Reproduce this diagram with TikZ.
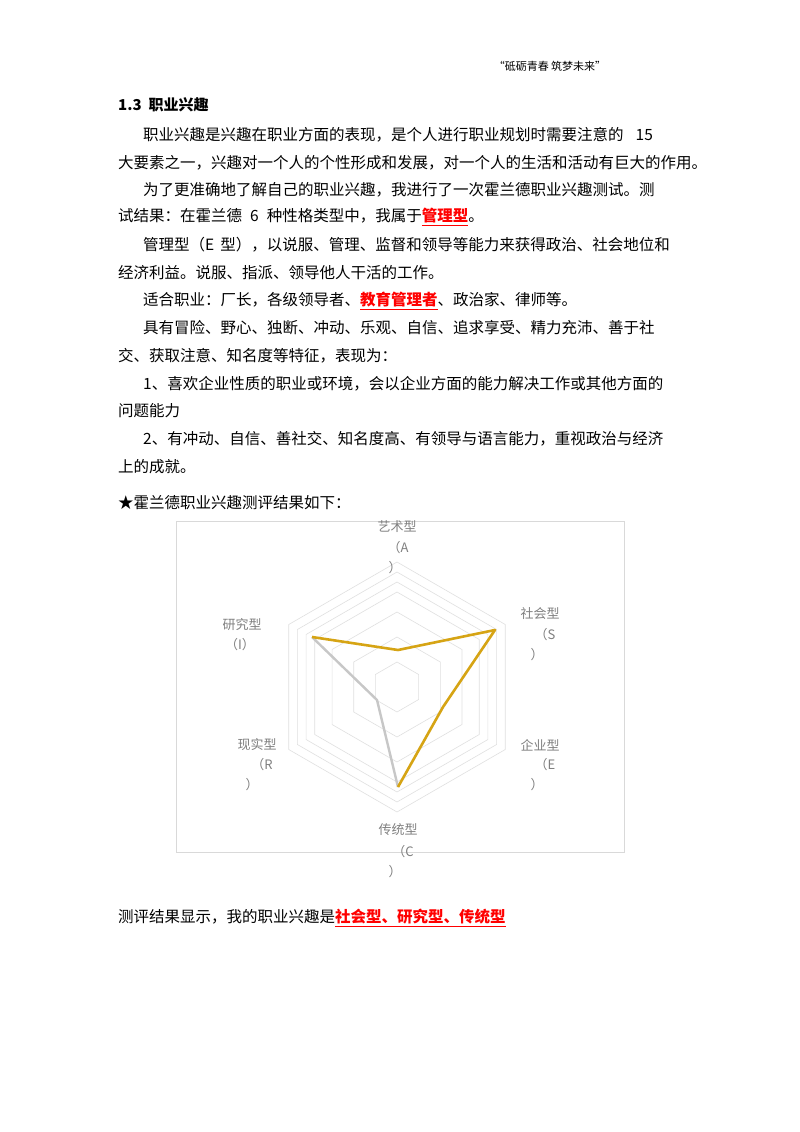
\documentclass[tikz,border=0pt]{standalone}
\usepackage{fontspec}
\setmainfont{Noto Sans CJK SC}
\definecolor{goldc}{RGB}{214,164,20}
\begin{document}
\begin{tikzpicture}[x=1pt,y=-1pt,
  tx/.style={anchor=west,inner sep=0pt,font=\fontsize{15.5}{18}\selectfont},
  lb/.style={inner sep=0pt,text=black!50,font=\fontsize{13}{15}\selectfont},
  ring/.style={draw=black!12,line width=0.6pt},
  gold/.style={draw=goldc,line width=2.6pt,line join=round},
  grayline/.style={draw=black!22,line width=2.4pt,line join=round}]
\useasboundingbox[fill=white] (0,0) rectangle (800,1132);
\def\red#1{\textcolor{red}{\underline{\textbf{#1}}}}
\node[inner sep=0pt,font=\fontsize{11}{13}\selectfont] (hdr) at (550,66) {“砥砺青春\ 筑梦未来”};
\node[tx,font=\fontsize{15}{18}\bfseries] (h) at (118,105) {1.3\ \ 职业兴趣};
\node[tx] (l1) at (143,135) {职业兴趣是兴趣在职业方面的表现，是个人进行职业规划时需要注意的\hspace{12pt}15};
\node[tx] (l2) at (118,163) {大要素之一，兴趣对一个人的个性形成和发展，对一个人的生活和活动有巨大的作用。};
\node[tx] (l3) at (143,190) {为了更准确地了解自己的职业兴趣，我进行了一次霍兰德职业兴趣测试。测};
\node[tx] (l4) at (118,217) {试结果：在霍兰德\hspace{8pt}6\hspace{8pt}种性格类型中，我属于\red{管理型}。};
\node[tx] (l5) at (143,245) {管理型（E\hspace{6pt}型），以说服、管理、监督和领导等能力来获得政治、社会地位和};
\node[tx] (l6) at (118,273) {经济利益。说服、指派、领导他人干活的工作。};
\node[tx] (l7) at (143,301) {适合职业：厂长，各级领导者、\red{教育管理者}、政治家、律师等。};
\node[tx] (l8) at (143,328) {具有冒险、野心、独断、冲动、乐观、自信、追求享受、精力充沛、善于社};
\node[tx] (l9) at (118,356) {交、获取注意、知名度等特征，表现为：};
\node[tx] (l10) at (143,384) {1、喜欢企业性质的职业或环境，会以企业方面的能力解决工作或其他方面的};
\node[tx] (l11) at (118,411) {问题能力};
\node[tx] (l12) at (143,439) {2、有冲动、自信、善社交、知名度高、有领导与语言能力，重视政治与经济};
\node[tx] (l13) at (118,467) {上的成就。};
\node[tx] (l14) at (118,503) {★霍兰德职业兴趣测评结果如下：};
\node[tx] (l15) at (118,918) {测评结果显示，我的职业兴趣是\red{社会型、研究型、传统型}};
% chart frame
\draw[draw=black!15,line width=0.8pt] (176,521) rectangle (624,852);
\foreach \r in {25,50,75,95,105,115,125}{
  \draw[ring] (397,687-\r) -- ++(30:\r) -- ++(90:\r) -- ++(150:\r) -- ++(-150:\r) -- ++(-90:\r) -- cycle;
}
\coordinate (pA) at (398,650);
\coordinate (pS) at (495,630);
\coordinate (pE) at (443,707);
\coordinate (pC) at (398,787);
\coordinate (pR) at (377,700);
\coordinate (pI) at (312,637);
\draw[grayline] (pC) -- (pR) -- (pI);
\draw[gold] (pI) -- (pA) -- (pS) -- (pE) -- (pC);
\node[lb] (A1) at (397,527) {艺术型};
\node[lb] (A2) at (398,548) {（A};
\node[lb] (A3) at (395,568) {）};
\node[lb] (S1) at (540,614) {社会型};
\node[lb] (S2) at (545,635) {（S};
\node[lb] (S3) at (537,655) {）};
\node[lb] (I1) at (242,625) {研究型};
\node[lb] (I2) at (240,645) {（I）};
\node[lb] (R1) at (257,745) {现实型};
\node[lb] (R2) at (262,765) {（R};
\node[lb] (R3) at (252,785) {）};
\node[lb] (E1) at (540,745) {企业型};
\node[lb] (E2) at (545,765) {（E};
\node[lb] (E3) at (537,785) {）};
\node[lb] (C1) at (398,830) {传统型};
\node[lb] (C2) at (403,852) {（C};
\node[lb] (C3) at (395,872) {）};
\end{tikzpicture}
\end{document}
